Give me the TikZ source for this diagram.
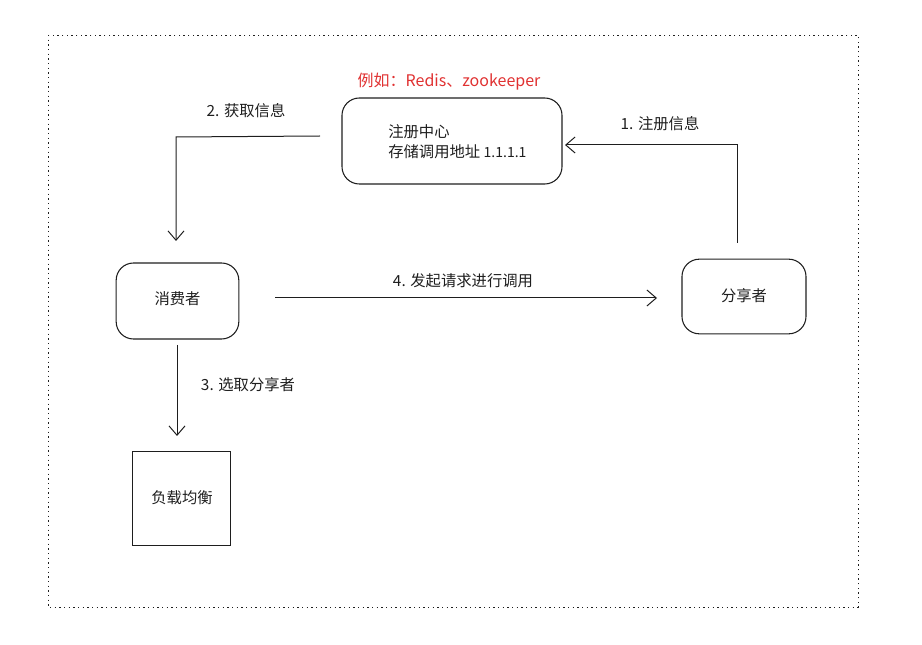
\documentclass[tikz,border=0pt]{standalone}
\usepackage{fontspec}
\setmainfont{Noto Sans CJK SC}
\usetikzlibrary{arrows.meta}
\definecolor{redtxt}{HTML}{E03131}
\definecolor{ink}{HTML}{1E1E1E}
\tikzset{
  px/.style={x=0.75pt,y=-0.75pt},
  box/.style={draw=ink,line width=0.8pt,rounded corners=13pt,inner sep=0pt},
  sqbox/.style={draw=ink,line width=0.8pt,inner sep=0pt},
  conn/.style={draw=ink,line width=0.75pt,-{Straight Barb[length=7pt,width=12pt,line width=0.75pt]}},
  lbl/.style={font=\fontsize{11.5}{15}\selectfont,text=ink,inner sep=0pt},
}
\begin{document}
\begin{tikzpicture}[px]
\useasboundingbox (0,0) rectangle (922,645);
\draw[ink,line width=0.7pt,dash pattern=on 1pt off 2.5pt] (48,35) rectangle (858,607);

\node[box,minimum width=165pt,minimum height=64.5pt] (reg) at (452,141) {};
\node[lbl,anchor=west,align=left] (regtxt) at (388,142) {注册中心\\存储调用地址 {\fontsize{10.5}{15}\selectfont 1.1.1.1}};
\node[lbl,text=redtxt,font=\fontsize{12}{14}\selectfont] (eg) at (449,82) {例如：Redis、zookeeper};

\node[box,minimum width=92pt,minimum height=57pt] (cons) at (177.5,301) {};
\node[lbl] (const) at (177.5,299) {消费者};
\node[box,minimum width=93pt,minimum height=56pt] (shar) at (744,296.5) {};
\node[lbl] (shart) at (744,296) {分享者};
\node[sqbox,minimum width=74pt,minimum height=70pt] (lb) at (181.5,498.5) {};
\node[lbl] (lbt) at (182,498) {负载均衡};

% arrow 1
\coordinate (a1s) at (737,243);
\coordinate (a1m) at (737,145);
\coordinate (a1e) at (565,145);
\draw[conn] (a1s) -- (a1m) -- (a1e);
\node[lbl] (l1) at (660,124) {1. 注册信息};

% arrow 2
\coordinate (a2s) at (320,136);
\coordinate (a2m) at (176,137);
\coordinate (a2e) at (176,241);
\draw[conn] (a2s) -- (a2m) -- (a2e);
\node[lbl] (l2) at (246,111) {2. 获取信息};

% arrow 3
\coordinate (a3s) at (177,345);
\coordinate (a3e) at (177,436);
\draw[conn] (a3s) -- (a3e);
\node[lbl] (l3) at (248,385) {3. 选取分享者};

% arrow 4
\coordinate (a4s) at (275,298);
\coordinate (a4e) at (657,298);
\draw[conn] (a4s) -- (a4e);
\node[lbl] (l4) at (463,281) {4. 发起请求进行调用};
\end{tikzpicture}
\end{document}
